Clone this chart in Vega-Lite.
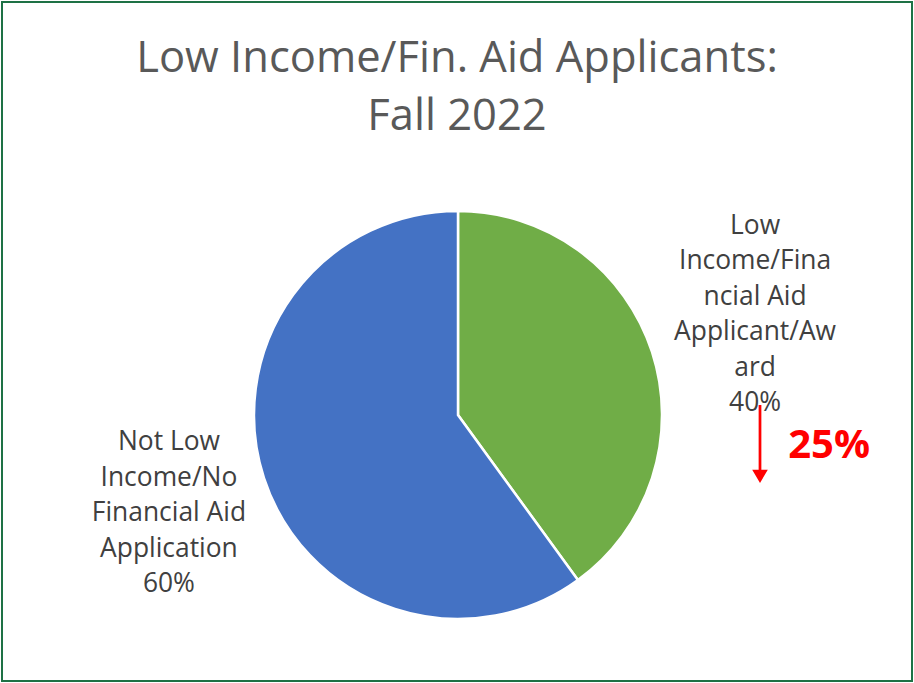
{
  "$schema": "https://vega.github.io/schema/vega-lite/v6.json",
  "width": 910,
  "height": 679,
  "padding": 2,
  "autosize": {"type": "none"},
  "background": "white",
  "view": {"stroke": "#1e7145", "strokeWidth": 2},
  "title": {
    "text": ["Low Income/Fin. Aid Applicants:", "Fall 2022"],
    "font": "Open Sans",
    "fontSize": 43.5,
    "fontWeight": "normal",
    "color": "#595959",
    "lineHeight": 58,
    "anchor": "middle",
    "baseline": "alphabetic",
    "offset": -171
  },
  "data": {
    "values": [
      {"category": "Low Income/Financial Aid Applicant/Award", "share": 40, "label": "Low\nIncome/Fina\nncial Aid\nApplicant/Aw\nard\n40%"},
      {"category": "Not Low Income/No Financial Aid Application", "share": 60, "label": "Not Low\nIncome/No\nFinancial Aid\nApplication\n60%"}
    ]
  },
  "layer": [
    {
      "mark": {"type": "arc", "outerRadius": 204, "stroke": "white", "strokeWidth": 2.5, "x": {"expr": "width/2 + 1"}, "y": {"expr": "height/2 + 73.5"}},
      "encoding": {
        "theta": {"field": "share", "type": "quantitative", "stack": true},
        "color": {"field": "category", "type": "nominal", "scale": {"domain": ["Low Income/Financial Aid Applicant/Award", "Not Low Income/No Financial Aid Application"], "range": ["#70AD47", "#4472C4"]}, "legend": null}
      }
    },
    {
      "mark": {"type": "text", "radius": 305, "font": "Open Sans", "fontSize": 26.4, "lineHeight": 35.5, "lineBreak": "\n", "fill": "#404040", "align": "center", "baseline": "middle", "dx": 7, "dy": -95, "x": {"expr": "width/2 + 1"}, "y": {"expr": "height/2 + 73.5"}},
      "encoding": {
        "theta": {"field": "share", "type": "quantitative", "stack": true},
        "detail": {"field": "category", "type": "nominal"},
        "text": {"condition": {"test": "datum.share == 40", "field": "label"}, "value": ""}
      }
    },
    {
      "mark": {"type": "text", "radius": 305, "font": "Open Sans", "fontSize": 26.4, "lineHeight": 35.5, "lineBreak": "\n", "fill": "#404040", "align": "center", "baseline": "middle", "dx": 1, "dy": -67, "x": {"expr": "width/2 + 1"}, "y": {"expr": "height/2 + 73.5"}},
      "encoding": {
        "theta": {"field": "share", "type": "quantitative", "stack": true},
        "detail": {"field": "category", "type": "nominal"},
        "text": {"condition": {"test": "datum.share == 60", "field": "label"}, "value": ""}
      }
    },
    {
      "mark": {"type": "text", "radius": 305, "font": "Open Sans", "fontSize": 40, "fontWeight": "bold", "fill": "#FF0000", "align": "center", "baseline": "middle", "dx": 81, "dy": 125, "x": {"expr": "width/2 + 1"}, "y": {"expr": "height/2 + 73.5"}},
      "encoding": {
        "theta": {"field": "share", "type": "quantitative", "stack": true},
        "detail": {"field": "category", "type": "nominal"},
        "text": {"condition": {"test": "datum.share == 40", "value": "25%"}, "value": ""}
      }
    },
    {
      "transform": [{"filter": "datum.share == 40"}],
      "mark": {"type": "point", "filled": true, "fill": "#FF0000", "opacity": 1, "strokeWidth": 0, "size": 6084, "shape": "M -0.035 -1 L 0.035 -1 L 0.035 0.66 L 0.2 0.66 L 0 1 L -0.2 0.66 L -0.035 0.66 Z", "x": {"expr": "width/2 + 303"}, "y": {"expr": "height/2 + 73.5 + 29"}},
      "encoding": {}
    }
  ]
}
